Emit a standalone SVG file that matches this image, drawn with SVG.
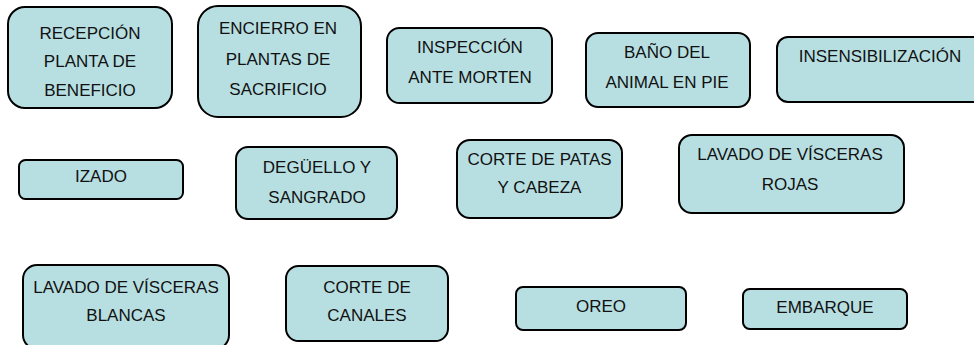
<svg xmlns="http://www.w3.org/2000/svg" width="974" height="345" viewBox="0 0 974 345">
<style>
.box{fill:#B7DFE2;stroke:#000;stroke-width:2}
.t{font-family:"Liberation Sans",Arial,sans-serif;font-size:17px;fill:#111;text-anchor:middle}
</style>
<rect width="974" height="345" fill="#fff"/>
<g id="connectors"></g>
<g id="n1"><rect class="box" x="8" y="7" width="164" height="101" rx="17"/><text class="t" x="90" y="39">RECEPCIÓN</text><text class="t" x="90" y="67">PLANTA DE</text><text class="t" x="90" y="96">BENEFICIO</text></g>
<g id="n2"><rect class="box" x="198" y="6" width="163" height="111" rx="20"/><text class="t" x="278" y="34">ENCIERRO EN</text><text class="t" x="278" y="65">PLANTAS DE</text><text class="t" x="278" y="95">SACRIFICIO</text></g>
<g id="n3"><rect class="box" x="387" y="28" width="165" height="75" rx="12.5"/><text class="t" x="470" y="53">INSPECCIÓN</text><text class="t" x="470" y="83">ANTE MORTEN</text></g>
<g id="n4"><rect class="box" x="586" y="33" width="164" height="74" rx="12"/><text class="t" x="667" y="58">BAÑO DEL</text><text class="t" x="667" y="88">ANIMAL EN PIE</text></g>
<g id="n5"><rect class="box" x="777" y="37" width="220" height="65" rx="11"/><text class="t" x="880" y="62">INSENSIBILIZACIÓN</text></g>
<g id="n6"><rect class="box" x="19" y="160" width="164" height="39" rx="6.5"/><text class="t" x="101" y="182">IZADO</text></g>
<g id="n7"><rect class="box" x="236" y="147" width="161" height="72" rx="12"/><text class="t" x="317" y="173">DEGÜELLO Y</text><text class="t" x="317" y="203">SANGRADO</text></g>
<g id="n8"><rect class="box" x="457" y="140" width="165" height="78" rx="13"/><text class="t" x="539.5" y="165">CORTE DE PATAS</text><text class="t" x="539.5" y="193">Y CABEZA</text></g>
<g id="n9"><rect class="box" x="679" y="135" width="225" height="78" rx="13"/><text class="t" x="790" y="160">LAVADO DE VÍSCERAS</text><text class="t" x="790" y="190">ROJAS</text></g>
<g id="n10"><rect class="box" x="23" y="265" width="206" height="84" rx="14"/><text class="t" x="126" y="293">LAVADO DE VÍSCERAS</text><text class="t" x="126" y="321">BLANCAS</text></g>
<g id="n11"><rect class="box" x="286" y="266" width="162" height="75" rx="12.5"/><text class="t" x="367" y="293">CORTE DE</text><text class="t" x="367" y="321">CANALES</text></g>
<g id="n12"><rect class="box" x="516" y="287" width="170" height="43" rx="7"/><text class="t" x="601" y="312">OREO</text></g>
<g id="n13"><rect class="box" x="743" y="289" width="164" height="40" rx="6.7"/><text class="t" x="825" y="313">EMBARQUE</text></g>
</svg>
